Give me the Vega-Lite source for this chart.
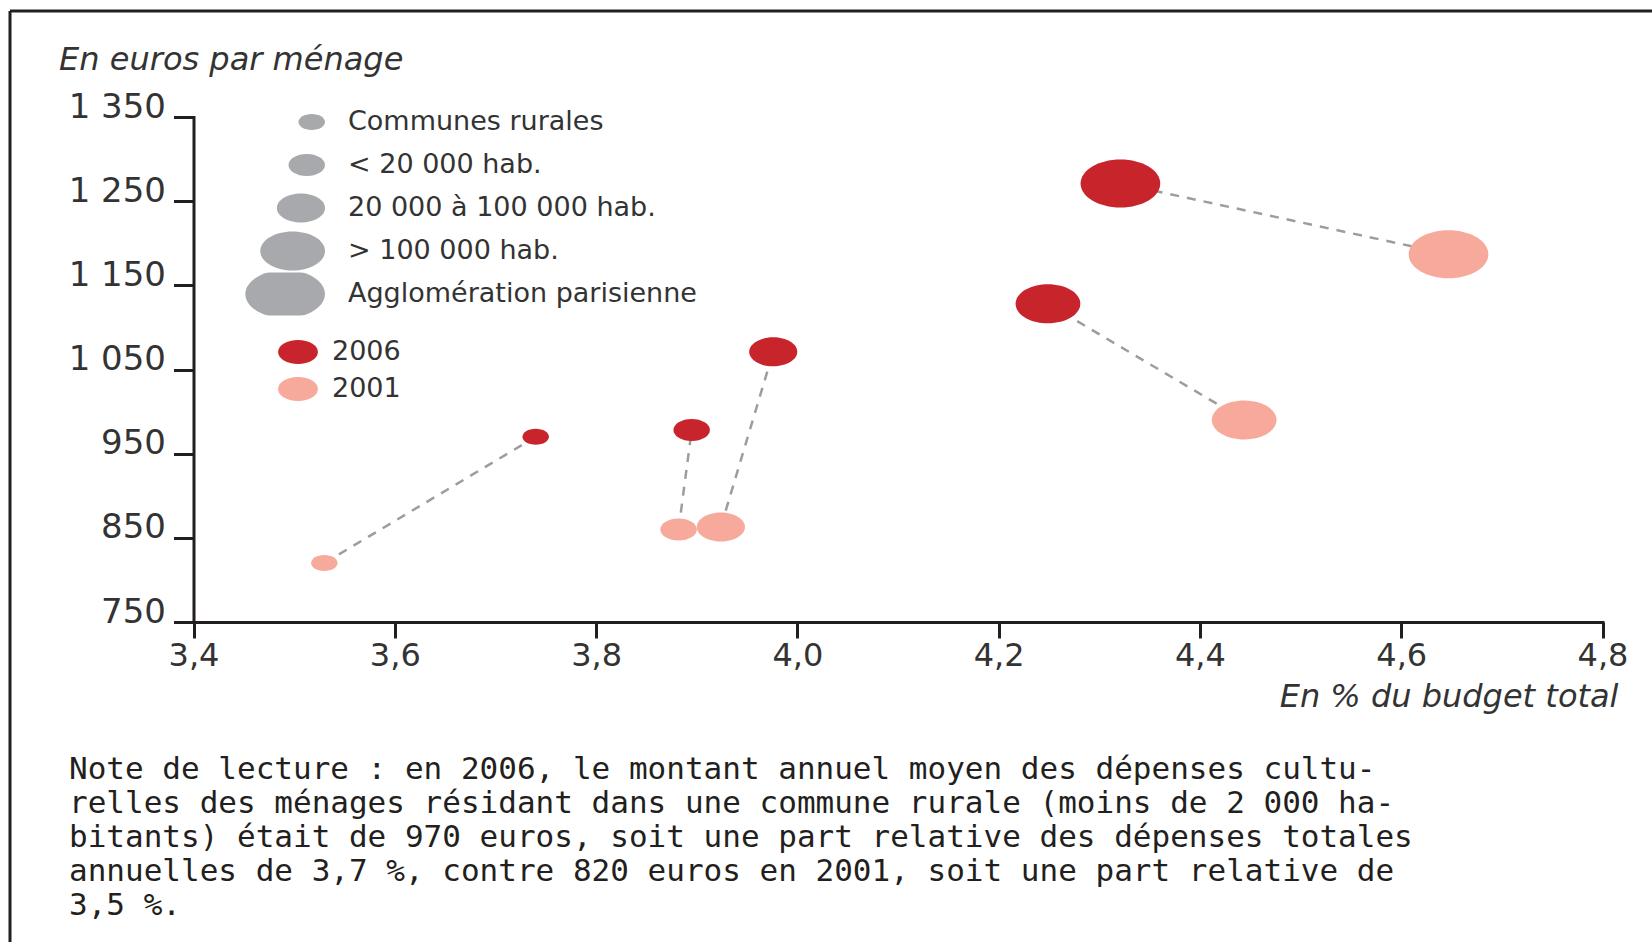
{
  "$schema": "https://vega.github.io/schema/vega-lite/v6.json",
  "autosize": {"type": "none"},
  "padding": {"left": 10, "top": 11, "right": 0, "bottom": 0},
  "width": 1642,
  "height": 931,
  "background": "white",
  "title": {
    "text": [
      "Note de lecture : en 2006, le montant annuel moyen des dépenses cultu-",
      "relles des ménages résidant dans une commune rurale (moins de 2 000 ha-",
      "bitants) était de 970 euros, soit une part relative des dépenses totales",
      "annuelles de 3,7 %, contre 820 euros en 2001, soit une part relative de",
      "3,5 %."
    ],
    "orient": "bottom",
    "anchor": "start",
    "frame": "group",
    "offset": -187,
    "dx": 59,
    "font": "DejaVu Sans Mono",
    "fontSize": 31,
    "fontWeight": "normal",
    "color": "#231f20",
    "lineHeight": 34
  },
  "data": {
    "values": [
      {"taille": "Communes rurales", "annee": "2006", "budget": 3.74, "euros": 970},
      {"taille": "Communes rurales", "annee": "2001", "budget": 3.53, "euros": 820},
      {"taille": "< 20 000 hab.", "annee": "2006", "budget": 3.895, "euros": 978},
      {"taille": "< 20 000 hab.", "annee": "2001", "budget": 3.882, "euros": 860},
      {"taille": "20 000 à 100 000 hab.", "annee": "2006", "budget": 3.976, "euros": 1071},
      {"taille": "20 000 à 100 000 hab.", "annee": "2001", "budget": 3.924, "euros": 863},
      {"taille": "> 100 000 hab.", "annee": "2006", "budget": 4.249, "euros": 1128},
      {"taille": "> 100 000 hab.", "annee": "2001", "budget": 4.444, "euros": 990},
      {"taille": "Agglomération parisienne", "annee": "2006", "budget": 4.321, "euros": 1271},
      {"taille": "Agglomération parisienne", "annee": "2001", "budget": 4.647, "euros": 1187}
    ]
  },
  "encoding": {
    "x": {
      "field": "budget",
      "type": "quantitative",
      "scale": {"domain": [3.4, 4.8], "range": [183.5, 1592.5], "nice": false, "zero": false},
      "axis": {
        "title": "En % du budget total",
        "values": [3.4, 3.6, 3.8, 4.0, 4.2, 4.4, 4.6, 4.8],
        "labelExpr": "replace(format(datum.value, '.1f'), '.', ',')",
        "offset": -320,
        "grid": false,
        "domainColor": "#231f20",
        "domainWidth": 3,
        "domainCap": "square",
        "tickColor": "#231f20",
        "tickWidth": 3,
        "tickSize": 16,
        "labelFont": "DejaVu Sans",
        "labelFontSize": 32,
        "labelColor": "#333333",
        "labelPadding": 2,
        "labelFlush": false,
        "labelOverlap": false,
        "titleX": 1608,
        "titleY": 84,
        "titleAlign": "right",
        "titleBaseline": "alphabetic",
        "titleFont": "DejaVu Sans",
        "titleFontStyle": "italic",
        "titleFontWeight": "normal",
        "titleFontSize": 32,
        "titleColor": "#333333"
      }
    },
    "y": {
      "field": "euros",
      "type": "quantitative",
      "scale": {"domain": [750, 1350], "range": [611, 106], "nice": false, "zero": false},
      "axis": {
        "title": "En euros par ménage",
        "values": [750, 850, 950, 1050, 1150, 1250, 1350],
        "labelExpr": "replace(format(datum.value, ','), ',', ' ')",
        "offset": -183.5,
        "grid": false,
        "domainColor": "#231f20",
        "domainWidth": 3,
        "domainCap": "square",
        "tickColor": "#231f20",
        "tickWidth": 3,
        "tickSize": 20,
        "labelFont": "DejaVu Sans",
        "labelFontSize": 34,
        "labelColor": "#333333",
        "labelPadding": 8,
        "labelBaseline": "alphabetic",
        "labelOverlap": false,
        "titleAngle": 0,
        "titleX": -134.9,
        "titleY": 58,
        "titleAlign": "left",
        "titleBaseline": "alphabetic",
        "titleFont": "DejaVu Sans",
        "titleFontStyle": "italic",
        "titleFontWeight": "normal",
        "titleFontSize": 32,
        "titleColor": "#333333"
      }
    }
  },
  "layer": [
    {
      "mark": {"type": "line", "color": "#9d9d9d", "strokeWidth": 2.5, "strokeDash": [9, 8]},
      "encoding": {"detail": {"field": "taille", "type": "nominal"}}
    },
    {
      "mark": {
        "type": "point",
        "filled": true,
        "opacity": 1,
        "strokeWidth": 0,
        "shape": "M-1.66,0C-1.66,-0.5523,-0.9168,-1,0,-1C0.9168,-1,1.66,-0.5523,1.66,0C1.66,0.5523,0.9168,1,0,1C-0.9168,1,-1.66,0.5523,-1.66,0Z"
      },
      "encoding": {
        "size": {
          "field": "taille",
          "type": "ordinal",
          "sort": ["Communes rurales", "< 20 000 hab.", "20 000 à 100 000 hab.", "> 100 000 hab.", "Agglomération parisienne"],
          "scale": {
            "type": "ordinal",
            "domain": ["Communes rurales", "< 20 000 hab.", "20 000 à 100 000 hab.", "> 100 000 hab.", "Agglomération parisienne"],
            "range": [256, 484, 841, 1521, 2304]
          },
          "legend": {
            "title": null,
            "orient": "none",
            "legendX": 235,
            "legendY": 89.5,
            "direction": "vertical",
            "symbolType": "M-3.32,0C-3.32,-0.5523,-2.5768,-1,-1.66,-1C-0.7432,-1,0,-0.5523,0,0C0,0.5523,-0.7432,1,-1.66,1C-2.5768,1,-3.32,0.5523,-3.32,0Z",
            "symbolFillColor": "#a7a9ac",
            "symbolStrokeWidth": 0,
            "symbolOpacity": 1,
            "symbolOffset": 56,
            "labelFont": "DejaVu Sans",
            "labelFontSize": 27,
            "labelColor": "#333333",
            "labelOffset": -1,
            "labelLimit": 600,
            "clipHeight": 43,
            "rowPadding": 0,
            "padding": 0
          }
        },
        "color": {
          "field": "annee",
          "type": "nominal",
          "scale": {"domain": ["2006", "2001"], "range": ["#c8242b", "#f7a99c"]},
          "legend": {
            "title": null,
            "orient": "none",
            "legendX": 274.5,
            "legendY": 327.5,
            "direction": "vertical",
            "symbolType": "M-1.66,0C-1.66,-0.5523,-0.9168,-1,0,-1C0.9168,-1,1.66,-0.5523,1.66,0C1.66,0.5523,0.9168,1,0,1C-0.9168,1,-1.66,0.5523,-1.66,0Z",
            "symbolSize": 576,
            "symbolStrokeWidth": 0,
            "symbolOpacity": 1,
            "symbolOffset": 0,
            "labelFont": "DejaVu Sans",
            "labelFontSize": 27,
            "labelColor": "#333333",
            "labelOffset": 20.5,
            "labelLimit": 600,
            "rowPadding": 9,
            "padding": 0
          }
        }
      }
    }
  ],
  "config": {
    "font": "DejaVu Sans",
    "view": {"stroke": "#231f20", "strokeWidth": 3, "strokeDash": [1642, 2573, 931, 0]}
  }
}
